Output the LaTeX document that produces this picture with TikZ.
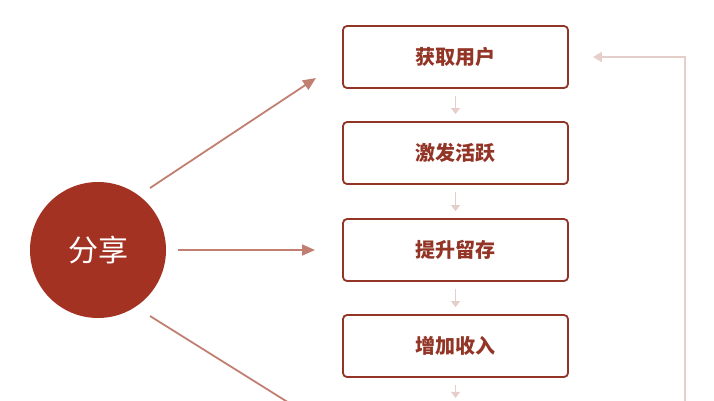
\documentclass[tikz,border=0pt]{standalone}
\usepackage{fontspec}
\newfontfamily\cjk{Noto Sans CJK SC}
\usetikzlibrary{arrows.meta}
\definecolor{dred}{HTML}{A33222}
\definecolor{bord}{HTML}{933526}
\definecolor{pinkl}{HTML}{E6CFCB}
\definecolor{diag}{HTML}{C17F72}
\tikzset{
  stepbox/.style={draw=bord,line width=1.8pt,rounded corners=4pt,minimum width=225pt,minimum height=62pt,font=\cjk\fontsize{20}{20}\selectfont\bfseries,text=bord,fill=white},
  smallarr/.style={pinkl,line width=1.2pt,-{Triangle[length=6pt,width=9pt]}},
  bigarr/.style={diag,line width=1.8pt,-{Triangle[length=13pt,width=11pt]}},
}
\begin{document}
\begin{tikzpicture}[x=1pt,y=-1pt]
\useasboundingbox (0,0) rectangle (714,400);
\clip (0,0) rectangle (714,400);
\node[circle,fill=dred,minimum size=136pt,text=white,font=\cjk\fontsize{30}{30}\selectfont] (share) at (98,250) {分享};
\node[stepbox] (b1) at (455.5,57) {获取用户};
\node[stepbox] (b2) at (455.5,153) {激发活跃};
\node[stepbox] (b3) at (455.5,250) {提升留存};
\node[stepbox] (b4) at (455.5,346) {增加收入};
\draw[smallarr] ([yshift=-7pt]b1.south) -- ([yshift=7pt]b2.north);
\draw[smallarr] ([yshift=-7pt]b2.south) -- ([yshift=7pt]b3.north);
\draw[smallarr] ([yshift=-7pt]b3.south) -- ([yshift=7pt]b4.north);
\draw[smallarr] ([yshift=-7pt]b4.south) -- ([yshift=-20pt]b4.south);
\coordinate (fb1) at (685,420);
\coordinate (fb2) at (685,57);
\draw[pinkl,line width=1.8pt,-{Triangle[length=9pt,width=10pt]}] (fb1) -- (fb2) -- ([xshift=24pt]b1.east);
\coordinate (t1) at (150,188);
\coordinate (h1) at (316,78);
\draw[bigarr] (t1) -- (h1);
\coordinate (h2) at (315,250);
\draw[bigarr] ([xshift=12pt]share.east) -- (h2);
\coordinate (t3) at (150,316);
\coordinate (h3) at (310,416);
\draw[bigarr] (t3) -- (h3);
\end{tikzpicture}
\end{document}
